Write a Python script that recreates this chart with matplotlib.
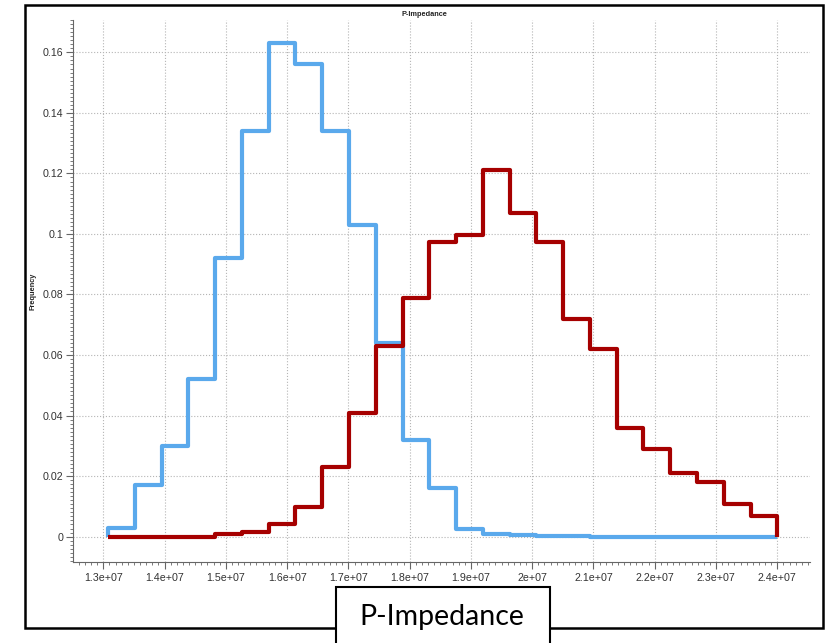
import matplotlib.pyplot as plt
from matplotlib.patches import Rectangle
from matplotlib.ticker import MultipleLocator, AutoMinorLocator, FormatStrFormatter
import numpy as np

# histogram bins (25 equal bins over the impedance range)
edge_lo = 1.3077e7
edge_hi = 2.4e7
n_bins = 25

freq_blue = [0.003, 0.017, 0.030, 0.052, 0.092, 0.134, 0.163, 0.156, 0.134,
             0.103, 0.064, 0.032, 0.016, 0.0025, 0.0009, 0.0005, 0.0001,
             0.0001, 0.0, 0.0, 0.0, 0.0, 0.0, 0.0, 0.0]
freq_red = [0.0, 0.0, 0.0, 0.0, 0.0008, 0.0014, 0.0041, 0.0099, 0.023,
            0.041, 0.063, 0.079, 0.0975, 0.0996, 0.121, 0.107, 0.0975,
            0.072, 0.062, 0.036, 0.029, 0.021, 0.018, 0.0108, 0.0068]

yticks = [0, 0.02, 0.04, 0.06, 0.08, 0.1, 0.12, 0.14, 0.16]

edges = np.linspace(edge_lo, edge_hi, n_bins + 1)

W, H = 825, 643
fig = plt.figure(figsize=(W / 100, H / 100), dpi=100)
fig.patch.set_facecolor('white')

ax = fig.add_axes([73 / W, 1 - 562 / H, (810 - 73) / W, (562 - 20) / H])

ax.stairs(freq_blue, edges, color='#5aa9ec', linewidth=3.0, joinstyle='round', zorder=3)
ax.stairs(freq_red, edges, color='#a60000', linewidth=3.0, joinstyle='round', zorder=4)

ax.set_xlim(1.2505e7, 2.4534e7)
ax.set_ylim(-0.0084, 0.1707)

ax.xaxis.set_major_locator(MultipleLocator(1e6))
ax.xaxis.set_minor_locator(AutoMinorLocator(10))
ax.xaxis.set_major_formatter(FormatStrFormatter('%g'))
ax.set_yticks(yticks)
ax.yaxis.set_minor_locator(AutoMinorLocator(15))
ax.yaxis.set_major_formatter(FormatStrFormatter('%g'))

ax.tick_params(which='major', length=5, width=0.8, color='#666666', labelsize=7.7,
               labelcolor='#333333', pad=2)
ax.tick_params(axis='x', which='major', pad=3)
ax.tick_params(which='minor', length=2.5, width=0.6, color='#666666')
for lab in ax.get_xticklabels() + ax.get_yticklabels():
    lab.set_family('Liberation Sans')

for side in ['top', 'right']:
    ax.spines[side].set_visible(False)
for side in ['left', 'bottom']:
    ax.spines[side].set_color('#666666')
    ax.spines[side].set_linewidth(0.8)

ax.grid(True, which='major', linestyle=':', color='#b5b5b5', linewidth=0.8)
ax.set_axisbelow(True)

fig.text(424 / W, 1 - 14 / H, 'P-Impedance', ha='center', va='center',
         fontsize=5.3, fontweight='bold', family='Liberation Sans', color='#222222')
fig.text(33 / W, 1 - 291 / H, 'Frequency', ha='center', va='center', rotation=90,
         fontsize=5.3, fontweight='bold', family='Liberation Sans', color='#222222')

# frame around the whole plot
fig.patches.append(Rectangle((25 / W, 1 - 628 / H), (823 - 25) / W, (628 - 5) / H,
                             transform=fig.transFigure, fill=False,
                             edgecolor='black', linewidth=1.8, zorder=1))
# caption box
fig.patches.append(Rectangle((336 / W, 1 - 660 / H), (550 - 336) / W, (660 - 587) / H,
                             transform=fig.transFigure, facecolor='white',
                             edgecolor='black', linewidth=1.5, zorder=2))
fig.text(442 / W, 1 - 617 / H, 'P-Impedance', ha='center', va='center',
         fontsize=20.5, family='Lato', color='black', zorder=3)

fig.savefig('out.png', dpi=100)
